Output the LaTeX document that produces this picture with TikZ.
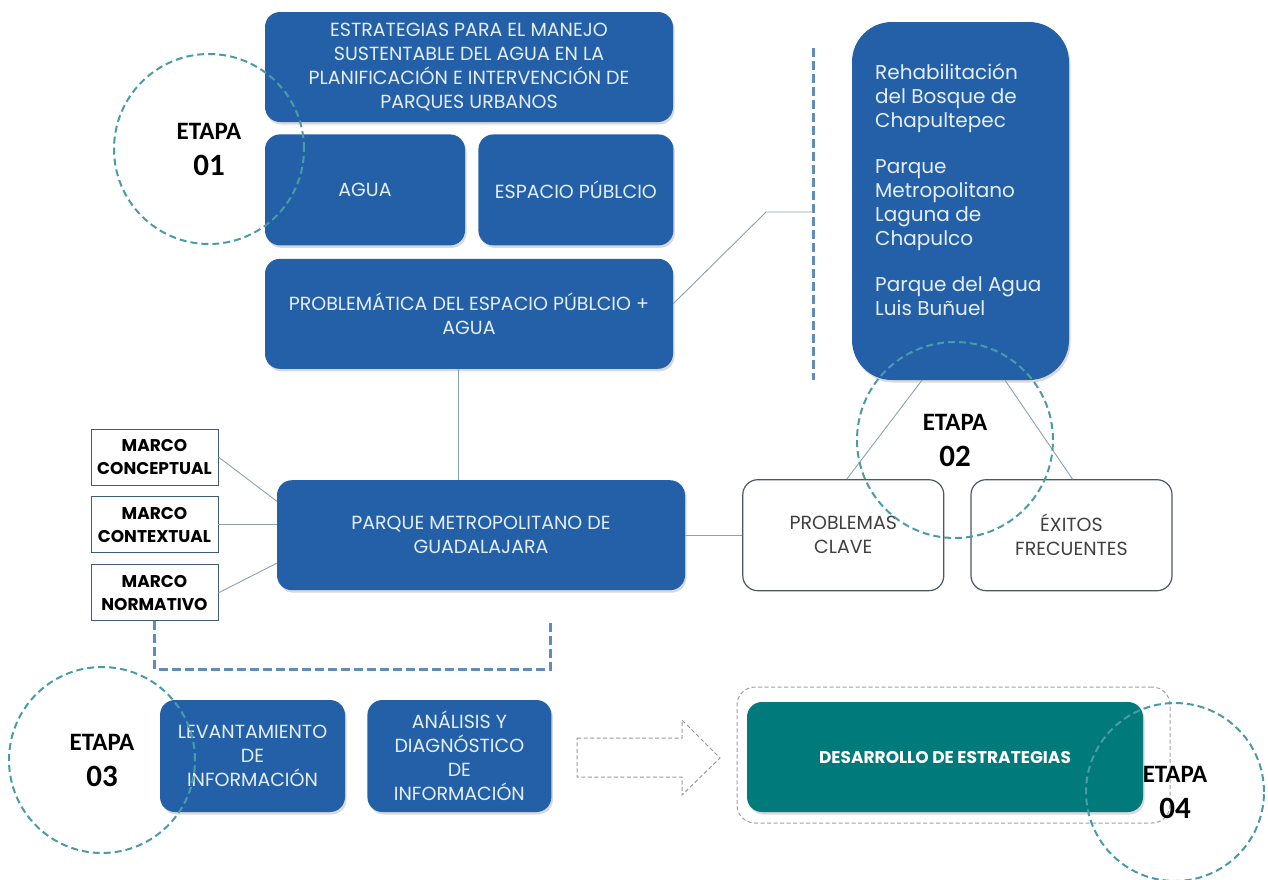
\documentclass[tikz,border=0pt]{standalone}
\usepackage{fontspec}
\setmainfont{Poppins}
\newfontfamily\etapafont{Carlito}
\usetikzlibrary{positioning,shadows}

\definecolor{azulcaja}{RGB}{36,96,168}
\definecolor{textocaja}{RGB}{228,238,250}
\definecolor{verdeazul}{RGB}{0,122,122}
\definecolor{colcirculo}{RGB}{74,155,168}
\definecolor{colguion}{RGB}{95,140,186}
\definecolor{colconector}{RGB}{140,160,178}
\definecolor{bordemarco}{RGB}{62,92,118}
\definecolor{bordegris}{RGB}{78,86,96}
\definecolor{textogris}{RGB}{64,64,64}

\begin{document}
\begin{tikzpicture}[x=1pt, y=-1pt,
    caja/.style={rectangle, rounded corners=15pt, fill=azulcaja, text=textocaja, align=center, inner sep=0pt,
        font=\fontsize{19}{24}\selectfont, drop shadow={shadow xshift=1.5pt, shadow yshift=-2.5pt, opacity=0.3}},
    cajablanca/.style={rectangle, rounded corners=15pt, draw=bordegris, line width=1.2pt, fill=white, text=textogris,
        align=center, inner sep=0pt, minimum width=201, minimum height=111, font=\fontsize{19}{24}\selectfont},
    marcobox/.style={rectangle, draw=bordemarco, line width=0.9pt, fill=white, align=center, inner sep=0pt,
        minimum width=127, minimum height=56, font=\fontsize{17}{23}\selectfont\bfseries},
    etapa/.style={circle, draw=colcirculo, line width=2pt, dash pattern=on 7pt off 4pt, align=center, inner sep=0pt,
        font=\etapafont\bfseries\fontsize{25}{36}\selectfont},
    conector/.style={draw=colconector, line width=0.9pt},
    guiones/.style={draw=colguion, line width=3pt, dash pattern=on 9pt off 4pt},
    flecha/.style={draw=gray!80, line width=1pt, dash pattern=on 4pt off 2.5pt}
]
    \useasboundingbox (0,0) rectangle (1268,879);

    % Etapa 01: tema y conceptos
    \node[caja, minimum width=408, minimum height=110] (estrategias) at (469,67)
        {ESTRATEGIAS PARA EL MANEJO\\SUSTENTABLE DEL AGUA EN LA\\PLANIFICACIÓN E INTERVENCIÓN DE\\PARQUES URBANOS};
    \node[caja, minimum width=200, minimum height=111, below=12pt of estrategias.south west, anchor=north west] (agua) {AGUA};
    \node[caja, minimum width=195, minimum height=111, right=13pt of agua] (espacio) {ESPACIO PÚBLCIO};
    \node[caja, minimum width=408, minimum height=110, below=13pt of agua.south west, anchor=north west] (problematica)
        {PROBLEMÁTICA DEL ESPACIO PÚBLCIO +\\AGUA};

    % Caso de estudio y marcos
    \node[caja, minimum width=408, minimum height=110, below=111pt of problematica.south west, anchor=north west, xshift=12pt] (parque)
        {PARQUE METROPOLITANO DE\\GUADALAJARA};
    \node[marcobox] (conceptual) at (154.5,457) {MARCO\\CONCEPTUAL};
    \node[marcobox, below=11pt of conceptual] (contextual) {MARCO\\CONTEXTUAL};
    \node[marcobox, below=11pt of contextual] (normativo) {MARCO\\NORMATIVO};

    % Etapa 02: casos analogos
    \node[caja, rounded corners=40pt, minimum width=217, minimum height=358] (casos) at (960.5,201) {};
    \node[anchor=north west, align=left, inner sep=0pt, text=textocaja, font=\fontsize{20}{24}\selectfont] (casostexto) at (875,64)
        {Rehabilitación\\del Bosque de\\Chapultepec\\[22pt]Parque\\Metropolitano\\Laguna de\\Chapulco\\[22pt]Parque del Agua\\Luis Buñuel};
    \node[cajablanca, right=57pt of parque] (problemas) {PROBLEMAS\\CLAVE};
    \node[cajablanca, right=26pt of problemas] (exitos) {ÉXITOS\\FRECUENTES};

    % Etapa 03 y 04
    \node[caja, minimum width=185, minimum height=112] (levantamiento) at (252.5,756) {LEVANTAMIENTO\\DE\\INFORMACIÓN};
    \node[caja, minimum width=184, minimum height=112, right=22pt of levantamiento] (analisis) {ANÁLISIS Y\\DIAGNÓSTICO\\DE\\INFORMACIÓN};
    \draw[flecha] (577,738) -- (682,738) -- (682,720) -- (720,758) -- (682,795) -- (682,777) -- (577,777) -- cycle;
    \node[rectangle, rounded corners=18pt, draw=gray!75, line width=1pt, dash pattern=on 4pt off 2.5pt,
        minimum width=433, minimum height=136] (marcodesarrollo) at (953.5,755) {};
    \node[caja, fill=verdeazul, text=white, minimum width=396, minimum height=110,
        font=\fontsize{17}{22}\selectfont\bfseries] (desarrollo) at (945,757) {DESARROLLO DE ESTRATEGIAS};

    % Conectores
    \coordinate (divarriba) at (813,48);
    \coordinate (divabajo) at (813,380);
    \coordinate (codo) at (766,212);
    \coordinate (llavefin) at (550,622);
    \draw[guiones] (divarriba) -- (divabajo);
    \draw[conector] ([yshift=10pt]problematica.east) -- (codo) -- (divarriba |- codo);
    \draw[conector] ([xshift=-11pt]problematica.south) -- ([xshift=-11pt]problematica.south |- parque.north);
    \draw[conector] (conceptual.east) -- ([yshift=34pt]parque.west);
    \draw[conector] (contextual.east) -- (contextual.east -| parque.west);
    \draw[conector] (normativo.east) -- ([yshift=-28pt]parque.west);
    \draw[conector] (parque.east) -- (problemas.west);
    \draw[conector] ([xshift=-38.5pt]casos.south) -- ([xshift=3.5pt]problemas.north);
    \draw[conector] ([xshift=44.5pt]casos.south) -- ([xshift=1pt]exitos.north);
    \draw[guiones] (normativo.south) -- ++(0,48) -| (llavefin);

    % Etapas
    \node[etapa, minimum size=190] (etapa1) at (209,149) {ETAPA\\{\fontsize{31}{31}\selectfont 01}};
    \node[etapa, minimum size=196] (etapa2) at (955,440) {ETAPA\\{\fontsize{31}{31}\selectfont 02}};
    \node[etapa, minimum size=186] (etapa3) at (102,760) {ETAPA\\{\fontsize{31}{31}\selectfont 03}};
    \node[etapa, minimum size=178] (etapa4) at (1175,792) {ETAPA\\{\fontsize{31}{31}\selectfont 04}};
\end{tikzpicture}
\end{document}
